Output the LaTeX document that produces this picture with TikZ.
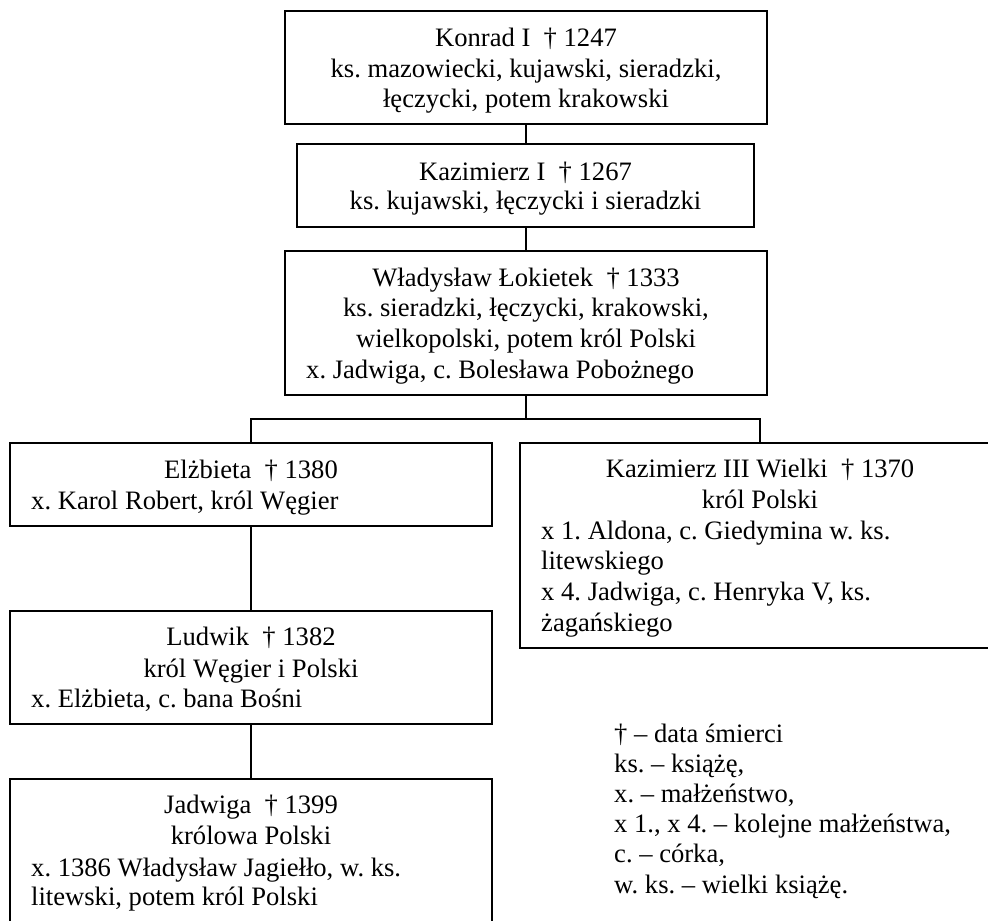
\documentclass[tikz,border=0pt]{standalone}
\usepackage{fontspec}
\setmainfont{Liberation Serif}
\frenchspacing
\begin{document}
\begin{tikzpicture}[x=1pt,y=-1pt,
  box/.style={draw=black, line width=1.8pt, rectangle, inner sep=0pt, outer sep=0pt},
  conn/.style={draw=black, line width=1.8pt},
  ctext/.style={anchor=base, inner sep=0pt, font=\fontsize{26.6}{30.7}\selectfont},
  ltext/.style={anchor=base west, inner sep=0pt, font=\fontsize{26.6}{30.7}\selectfont}]
\useasboundingbox (0,0) rectangle (988,921);
\fill[white] (0,0) rectangle (988,921);
% boxes
\node[box, minimum width=482pt, minimum height=113pt] (konrad) at (526,67.5) {};
\node[box, minimum width=457pt, minimum height=83pt] (kaz1) at (525.5,185.5) {};
\node[box, minimum width=482pt, minimum height=144pt] (wlad) at (526,323) {};
\node[box, minimum width=482pt, minimum height=83pt] (elz) at (251,484.5) {};
\node[box, minimum width=480pt, minimum height=205pt] (kaz3) at (760,545.5) {};
\node[box, minimum width=482pt, minimum height=113pt] (lud) at (251,667.5) {};
\node[box, minimum width=482pt, minimum height=156pt] (jad) at (251,857) {};
% connectors
\draw[conn] (konrad.south) -- (konrad.south |- kaz1.north);
\draw[conn] (wlad.north |- kaz1.south) -- (wlad.north);
\draw[conn] (wlad.south) -- ++(0,24) coordinate (j);
\draw[conn] (elz.north) |- (j) -| (kaz3.north);
\draw[conn] (elz.south) -- (lud.north);
\draw[conn] (lud.south) -- (jad.north);
% texts
\node[ctext] (k1) at (526,46) {Konrad I~~† 1247};
\node[ctext] (k2) at (526,77) {ks. mazowiecki, kujawski, sieradzki,};
\node[ctext] (k3) at (526,107) {łęczycki, potem krakowski};
\node[ctext] (z1) at (525.5,180) {Kazimierz I~~† 1267};
\node[ctext] (z2) at (525.5,209) {ks. kujawski, łęczycki i sieradzki};
\node[ctext] (w1) at (526,286) {Władysław Łokietek~~† 1333};
\node[ctext] (w2) at (526,316) {ks. sieradzki, łęczycki, krakowski,};
\node[ctext] (w3) at (526,347) {wielkopolski, potem król Polski};
\node[ltext] (w4) at (306,378) {x. Jadwiga, c. Bolesława Pobożnego};
\node[ctext] (e1) at (251,478) {Elżbieta~~† 1380};
\node[ltext] (e2) at (31,509) {x. Karol Robert, król Węgier};
\node[ctext] (q1) at (760,477) {Kazimierz III Wielki~~† 1370};
\node[ctext] (q2) at (760,508) {król Polski};
\node[ltext] (q3) at (541,539) {x 1. Aldona, c. Giedymina w. ks.};
\node[ltext] (q4) at (541,569) {litewskiego};
\node[ltext] (q5) at (541,600) {x 4. Jadwiga, c. Henryka V, ks.};
\node[ltext] (q6) at (541,631) {żagańskiego};
\node[ctext] (l1) at (251,645) {Ludwik~~† 1382};
\node[ctext] (l2) at (251,677) {król Węgier i Polski};
\node[ltext] (l3) at (31,707) {x. Elżbieta, c. bana Bośni};
\node[ctext] (a1) at (251,813) {Jadwiga~~† 1399};
\node[ctext] (a2) at (251,844) {królowa Polski};
\node[ltext] (a3) at (31,876) {x. 1386 Władysław Jagiełło, w. ks.};
\node[ltext] (a4) at (31,905) {litewski, potem król Polski};
% legend
\node[ltext] (g1) at (614,742) {† – data śmierci};
\node[ltext] (g2) at (614,772) {ks. – książę,};
\node[ltext] (g3) at (614,802) {x. – małżeństwo,};
\node[ltext] (g4) at (614,832) {x 1., x 4. – kolejne małżeństwa,};
\node[ltext] (g5) at (614,862) {c. – córka,};
\node[ltext] (g6) at (614,893) {w. ks. – wielki książę.};
\end{tikzpicture}
\end{document}
